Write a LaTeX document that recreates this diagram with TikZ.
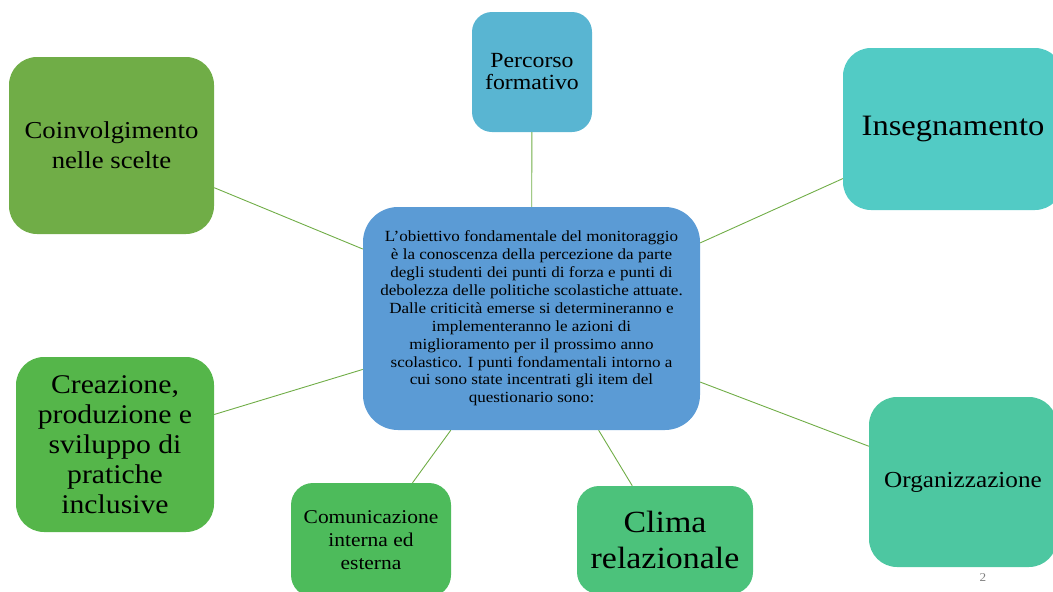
\documentclass[tikz,border=0pt]{standalone}
\usepackage{fontspec}
\setmainfont[FakeStretch=1.1]{Liberation Serif}
\usepackage{xcolor}
\definecolor{centreblue}{HTML}{5B9BD5}
\definecolor{percorsoblue}{HTML}{59B5D2}
\definecolor{insegnteal}{HTML}{52CBC5}
\definecolor{coinvgreen}{HTML}{70AD47}
\definecolor{creazgreen}{HTML}{55B64A}
\definecolor{comungreen}{HTML}{4DBB5B}
\definecolor{climagreen}{HTML}{4CC27B}
\definecolor{organteal}{HTML}{4DC7A1}
\definecolor{linkgreen}{HTML}{70AD47}

\begin{document}
\begin{tikzpicture}[
        x=1pt, y=-1pt,
        box/.style={
            rectangle,
            rounded corners=28pt,
            inner sep=0pt,
            align=center,
            text=black
        },
        link/.style={
            draw=linkgreen,
            line width=0.9pt
        }
    ]
        \useasboundingbox (0,0) rectangle (1053,592);
        \clip (0,0) rectangle (1053,592);

        % Nodes
        \node[box, fill=centreblue, rounded corners=35pt, minimum width=337pt, minimum height=223pt,
              font=\fontsize{15.5}{17.9}\selectfont] (centre) at (531.5,318.5)
            {L'obiettivo fondamentale del monitoraggio\\
             è la conoscenza della percezione da parte\\
             degli studenti dei punti di forza e punti di\\
             debolezza delle politiche scolastiche attuate.\\
             Dalle criticità emerse si determineranno e\\
             implementeranno le azioni di\\
             miglioramento per il prossimo anno\\
             scolastico. I punti fondamentali intorno a\\
             cui sono state incentrati gli item del\\
             questionario sono:};

        \node[box, fill=percorsoblue, rounded corners=20pt, minimum width=120pt, minimum height=120pt,
              font=\fontsize{21.6}{22}\selectfont] (percorso) at (532,72) {Percorso\\formativo};
        \node[box, fill=insegnteal, minimum width=220pt, minimum height=162pt,
              font=\fontsize{29.6}{34}\selectfont] (insegn) at (953,129) {Insegnamento};
        \node[box, fill=coinvgreen, minimum width=205pt, minimum height=177pt,
              font=\fontsize{24.3}{30}\selectfont] (coinv) at (111.5,145.5) {Coinvolgimento\\nelle scelte};
        \node[box, fill=creazgreen, minimum width=198pt, minimum height=175pt,
              font=\fontsize{27}{30}\selectfont] (creaz) at (115,444.5)
            {Creazione,\\produzione e\\sviluppo di\\pratiche\\inclusive};
        \node[box, fill=comungreen, rounded corners=22pt, minimum width=160pt, minimum height=114pt,
              font=\fontsize{19.5}{23}\selectfont] (comun) at (371,540) {Comunicazione\\interna ed\\esterna};
        \node[box, fill=climagreen, rounded corners=22pt, minimum width=176pt, minimum height=108pt,
              font=\fontsize{30.8}{36}\selectfont] (clima) at (665,540) {Clima\\relazionale};
        \node[box, fill=organteal, minimum width=188pt, minimum height=170pt,
              font=\fontsize{22.9}{24}\selectfont] (organ) at (963,482) {Organizzazione};

        \node[text=gray, font=\fontsize{12}{14}\selectfont] (pagenum) at (983,578) {2};

        % Edges
        \draw[link] (percorso) -- (centre);
        \draw[link] (insegn) -- (centre);
        \draw[link] (coinv) -- (centre);
        \draw[link] (creaz) -- (centre);
        \draw[link] (comun) -- (centre);
        \draw[link] (clima) -- (centre);
        \draw[link] (organ) -- (centre);
    \end{tikzpicture}
\end{document}
